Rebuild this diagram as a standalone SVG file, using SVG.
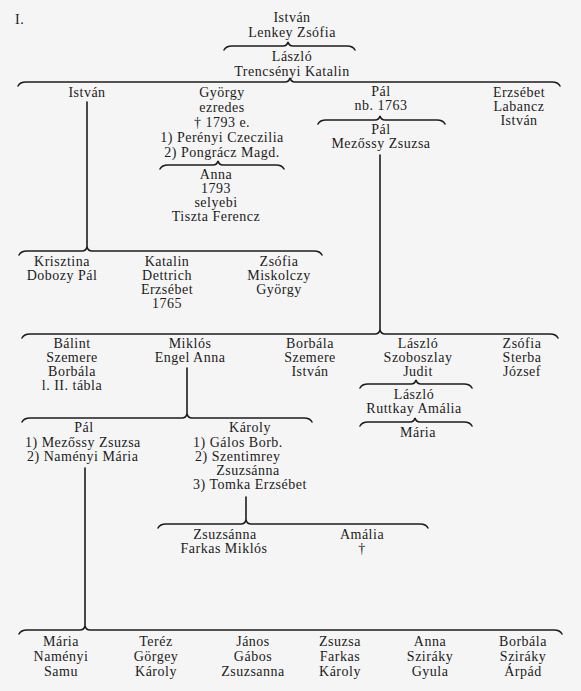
<svg xmlns="http://www.w3.org/2000/svg" width="581" height="691" viewBox="0 0 581 691">
<style>
text{font-family:"Liberation Serif","Times New Roman",serif;font-size:14px;fill:#1c1c1c;text-anchor:middle;letter-spacing:0.5px}
.s{text-anchor:start}
.c path,.c line{fill:none;stroke:#1c1c1c;stroke-width:1.6;stroke-linecap:round}
</style>
<rect width="581" height="691" fill="#f5f5f5"/>
<text class="s" x="15" y="24">I.</text>
<g class="c" id="connectors">
<path d="M224,50 Q226,46 232,46 L283,46 Q287,46 288,42 Q289,46 293,46 L347,46 Q353,46 355,50"/>
<path d="M18,86 Q20,82 26,82 L285,82 Q289,82 290,78 Q291,82 295,82 L552,82 Q558,82 560,86"/>
<path d="M160,169 Q162,165 168,165 L213,165 Q217,165 218,161 Q219,165 223,165 L276,165 Q282,165 284,169"/>
<path d="M318,124 Q320,120 326,120 L375,120 Q379,120 380,116 Q381,120 385,120 L437,120 Q443,120 445,124"/>
<line x1="87" y1="102" x2="87" y2="247"/>
<path d="M19,255 Q21,251 27,251 L82,251 Q86,251 87,247 Q88,251 92,251 L314,251 Q320,251 322,255"/>
<line x1="380" y1="155" x2="380" y2="330"/>
<path d="M22,338 Q24,334 30,334 L375,334 Q379,334 380,330 Q381,334 385,334 L550,334 Q556,334 558,338"/>
<path d="M360,388 Q362,384 368,384 L411,384 Q415,384 416,380 Q417,384 421,384 L464,384 Q470,384 472,388"/>
<path d="M360,426 Q362,422 368,422 L410,422 Q414,422 415,418 Q416,422 420,422 L464,422 Q470,422 472,426"/>
<line x1="187" y1="368" x2="187" y2="414"/>
<path d="M22,422 Q24,418 30,418 L182,418 Q186,418 187,414 Q188,418 192,418 L304,418 Q310,418 312,422"/>
<line x1="85" y1="468" x2="85" y2="626"/>
<line x1="246" y1="497" x2="246" y2="520"/>
<path d="M158,528 Q160,524 166,524 L241,524 Q245,524 246,520 Q247,524 251,524 L420,524 Q426,524 428,528"/>
<path d="M19,634 Q21,630 27,630 L80,630 Q84,630 85,626 Q86,630 90,630 L554,630 Q560,630 562,634"/>
</g>
<g id="n_istvan0"><text x="292" y="22">István</text><text x="292" y="37">Lenkey Zsófia</text></g>
<g id="n_laszlo0"><text x="292" y="61">László</text><text x="292" y="76">Trencsényi Katalin</text></g>
<g id="n_istvan1"><text x="87" y="97">István</text></g>
<g id="n_gyorgy"><text x="222" y="97">György</text><text x="222" y="112">ezredes</text><text x="222" y="127">† 1793 e.</text><text x="222" y="142">1) Perényi Czeczilia</text><text x="222" y="157">2) Pongrácz Magd.</text></g>
<g id="n_anna"><text x="216" y="179">Anna</text><text x="216" y="193">1793</text><text x="216" y="207">selyebi</text><text x="216" y="221">Tiszta Ferencz</text></g>
<g id="n_pal1"><text x="381" y="96">Pál</text><text x="381" y="110">nb. 1763</text></g>
<g id="n_pal2"><text x="381" y="134">Pál</text><text x="381" y="148">Mezőssy Zsuzsa</text></g>
<g id="n_erzsebet"><text x="519" y="97">Erzsébet</text><text x="519" y="111">Labancz</text><text x="519" y="125">István</text></g>
<g id="n_krisztina"><text x="62" y="266">Krisztina</text><text x="62" y="280">Dobozy Pál</text></g>
<g id="n_katalin"><text x="167" y="266">Katalin</text><text x="167" y="280">Dettrich</text><text x="167" y="294">Erzsébet</text><text x="167" y="308">1765</text></g>
<g id="n_zsofia1"><text x="279" y="266">Zsófia</text><text x="279" y="280">Miskolczy</text><text x="279" y="294">György</text></g>
<g id="n_balint"><text x="72" y="348">Bálint</text><text x="72" y="362">Szemere</text><text x="72" y="376">Borbála</text><text x="72" y="390">l. II. tábla</text></g>
<g id="n_miklos"><text x="190" y="348">Miklós</text><text x="190" y="362">Engel Anna</text></g>
<g id="n_borbala1"><text x="310" y="348">Borbála</text><text x="310" y="362">Szemere</text><text x="310" y="376">István</text></g>
<g id="n_laszlo1"><text x="418" y="348">László</text><text x="418" y="362">Szoboszlay</text><text x="418" y="376">Judit</text></g>
<g id="n_laszlo2"><text x="414" y="399">László</text><text x="414" y="413">Ruttkay Amália</text></g>
<g id="n_maria1"><text x="418" y="437">Mária</text></g>
<g id="n_zsofia2"><text x="522" y="348">Zsófia</text><text x="522" y="362">Sterba</text><text x="522" y="376">József</text></g>
<g id="n_pal3"><text x="84" y="432">Pál</text><text class="s" x="25" y="447">1) Mezőssy Zsuzsa</text><text class="s" x="27" y="461">2) Naményi Mária</text></g>
<g id="n_karoly"><text x="250" y="432">Károly</text><text class="s" x="193" y="447">1) Gálos Borb.</text><text class="s" x="195" y="461">2) Szentimrey</text><text x="248" y="475">Zsuzsánna</text><text x="250" y="489">3) Tomka Erzsébet</text></g>
<g id="n_zsuzsanna"><text x="225" y="539">Zsuzsánna</text><text x="224" y="553">Farkas Miklós</text></g>
<g id="n_amalia"><text x="362" y="539">Amália</text><text x="362" y="553">†</text></g>
<g id="n_maria2"><text x="61" y="646">Mária</text><text x="61" y="661">Naményi</text><text x="61" y="676">Samu</text></g>
<g id="n_terez"><text x="156" y="646">Teréz</text><text x="156" y="661">Görgey</text><text x="156" y="676">Károly</text></g>
<g id="n_janos"><text x="253" y="646">János</text><text x="253" y="661">Gábos</text><text x="253" y="676">Zsuzsanna</text></g>
<g id="n_zsuzsa"><text x="340" y="646">Zsuzsa</text><text x="340" y="661">Farkas</text><text x="340" y="676">Károly</text></g>
<g id="n_anna2"><text x="430" y="646">Anna</text><text x="430" y="661">Sziráky</text><text x="430" y="676">Gyula</text></g>
<g id="n_borbala2"><text x="523" y="646">Borbála</text><text x="523" y="661">Sziráky</text><text x="523" y="676">Árpád</text></g>
</svg>
